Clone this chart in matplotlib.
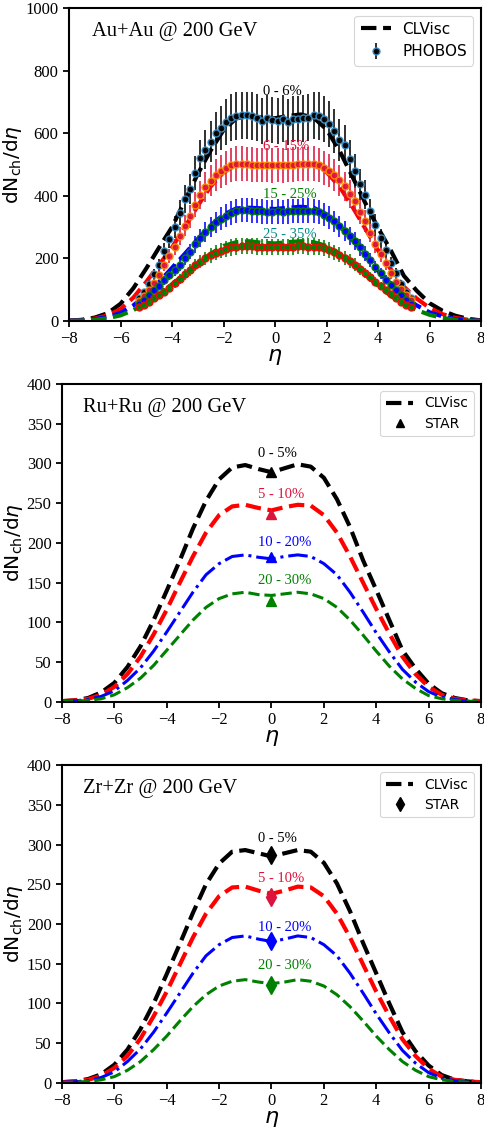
import numpy as np
import matplotlib
matplotlib.use("Agg")
import matplotlib.pyplot as plt

plt.rcParams['font.family'] = ['Liberation Serif', 'DejaVu Serif']
plt.rcParams['mathtext.fontset'] = 'dejavusans'

# ---------------- Au+Au 200 GeV, PHOBOS data ----------------
eta_phobos = [-5.3, -5.1, -4.9, -4.7, -4.5, -4.3, -4.1, -3.9, -3.7, -3.5, -3.3, -3.1, -2.9, -2.7,
              -2.5, -2.3, -2.1, -1.9, -1.7, -1.5, -1.3, -1.1, -0.9, -0.7, -0.5, -0.3, -0.1,
              0.1, 0.3, 0.5, 0.7, 0.9, 1.1, 1.3, 1.5, 1.7, 1.9, 2.1, 2.3, 2.5, 2.7, 2.9,
              3.1, 3.3, 3.5, 3.7, 3.9, 4.1, 4.3, 4.5, 4.7, 4.9, 5.1, 5.3]
phobos_0_6 = [74, 92, 118, 149, 178, 225, 262, 301, 346, 390, 422, 472, 520, 548,
              573, 600, 617, 637, 650, 655, 657, 657, 655, 650, 640, 648, 642,
              640, 647, 635, 645, 645, 648, 650, 657, 655, 645, 630, 608, 578, 562, 518,
              480, 437, 403, 351, 307, 264, 227, 184, 152, 118, 92, 75]
phobos_6_15 = [65, 80, 100, 122, 148, 178, 207, 237, 272, 305, 335, 372, 403, 428,
               448, 465, 478, 490, 498, 503, 503, 502, 500, 499, 498, 498, 497,
               498, 497, 499, 500, 502, 502, 502, 503, 498, 490, 480, 466, 450, 430, 405,
               385, 348, 320, 282, 245, 213, 184, 152, 126, 102, 84, 68]
phobos_15_25 = [55, 68, 82, 98, 113, 130, 147, 163, 180, 200, 222, 245, 265, 285,
                300, 315, 327, 337, 345, 352, 354, 354, 353, 351, 350, 349, 349,
                350, 349, 350, 351, 352, 353, 353, 351, 347, 340, 330, 318, 303, 288, 272,
                255, 235, 215, 195, 172, 152, 132, 115, 98, 82, 68, 56]
phobos_25_35 = [44, 52, 62, 72, 83, 94, 107, 120, 134, 149, 163, 178, 190, 200,
                210, 218, 225, 230, 235, 238, 240, 240, 239, 238, 237, 236, 236,
                237, 236, 237, 238, 239, 239, 238, 238, 236, 232, 227, 220, 212, 202, 192,
                180, 167, 153, 140, 126, 112, 99, 86, 74, 62, 52, 44]
phobos_relerr = [0.115, 0.11, 0.11, 0.11]

# CLVisc Au+Au
eta_model = [-8, -7.5, -7, -6.5, -6, -5.5, -5, -4.5, -4, -3.5, -3, -2.5, -2, -1.5, -1, -0.5,
             0, 0.5, 1, 1.5, 2, 2.5, 3, 3.5, 4, 4.5, 5, 5.5, 6, 6.5, 7, 7.5, 8]
au_0_6 = [1, 4, 11, 25, 55, 105, 168, 235, 300, 385, 470, 545, 610, 648, 655, 650,
          648, 655, 660, 650, 612, 545, 462, 378, 298, 225, 145, 97, 57, 33, 17, 7, 2]
au_6_15 = [1, 3, 8, 18, 38, 75, 125, 180, 235, 300, 368, 430, 475, 500, 502, 497,
           495, 500, 503, 500, 476, 430, 366, 296, 226, 165, 110, 72, 42, 22, 10, 4, 1]
au_15_25 = [1, 2, 6, 13, 26, 50, 85, 125, 170, 215, 262, 305, 340, 360, 362, 360,
            358, 362, 365, 362, 341, 305, 260, 210, 160, 115, 78, 50, 28, 15, 6, 2, 1]
au_25_35 = [0.5, 1.5, 4, 9, 18, 35, 58, 85, 118, 150, 185, 215, 240, 252, 255, 250,
            248, 252, 255, 252, 240, 215, 183, 148, 113, 80, 55, 35, 20, 10, 4, 1.5, 0.5]

# ---------------- Ru+Ru and Zr+Zr 200 GeV ----------------
ru_0_5 = [1, 2, 5, 12, 24, 44, 70, 103, 140, 178, 218, 253, 280, 295, 298, 293,
          289, 294, 299, 296, 282, 255, 220, 178, 141, 103, 65, 42, 23, 11, 5, 2, 1]
ru_5_10 = [1, 2, 4, 9, 19, 35, 57, 85, 116, 150, 183, 213, 235, 246, 248, 244,
           241, 245, 248, 247, 235, 213, 183, 150, 117, 86, 57, 35, 19, 9, 4, 2, 1]
ru_10_20 = [1, 1.5, 3, 7, 14, 27, 43, 64, 88, 113, 138, 160, 174, 183, 185, 182,
            180, 183, 185, 183, 174, 160, 138, 113, 87, 63, 41, 25, 13, 6, 3, 1, 0.5]
ru_20_30 = [0.5, 1, 2, 4, 9, 18, 30, 46, 65, 84, 103, 119, 130, 136, 138, 135,
            134, 136, 138, 136, 130, 119, 103, 84, 64, 45, 29, 17, 8, 4, 2, 1, 0.5]

zr_0_5 = [1, 2, 5, 11, 23, 42, 68, 100, 137, 175, 214, 250, 276, 291, 293, 289,
          285, 289, 293, 291, 277, 251, 216, 176, 138, 100, 64, 40, 22, 10, 4, 2, 1]
zr_5_10 = [1, 2, 4, 9, 19, 34, 56, 84, 115, 149, 183, 213, 235, 246, 247, 242,
           238, 242, 247, 246, 235, 213, 183, 149, 115, 84, 55, 34, 18, 8, 4, 2, 1]
zr_10_20 = [1, 1.5, 3, 7, 14, 27, 43, 64, 88, 113, 138, 160, 174, 183, 185, 181,
            178, 181, 185, 183, 174, 160, 138, 113, 87, 63, 41, 25, 13, 6, 3, 1, 0.5]
zr_20_30 = [0.5, 1, 2, 4, 8, 16, 27, 42, 59, 78, 96, 111, 122, 128, 130, 127,
            125, 127, 130, 128, 122, 111, 96, 78, 59, 42, 27, 16, 8, 4, 2, 1, 0.5]

star_ru = [289, 236, 182, 127]
star_zr = [287, 234, 179, 123]

au_labels = ['0 - 6%', '6 - 15%', '15 - 25%', '25 - 35%']
au_label_y = [733, 557, 405, 277]
iso_labels = ['0 - 5%', '5 - 10%', '10 - 20%', '20 - 30%']
ru_label_y = [313, 261, 201, 153]
zr_label_y = [308, 257, 196, 148]

tick_fs = 12
serif = 'Liberation Serif'
sans = ['DejaVu Sans']

fig = plt.figure(figsize=(4.85, 11.3), dpi=100)
ax1 = fig.add_axes([0.1423, 0.7159, 0.8495, 0.2770])
ax2 = fig.add_axes([0.1278, 0.3788, 0.8639, 0.2814])
ax3 = fig.add_axes([0.1278, 0.0416, 0.8639, 0.2814])

# ---- panel 1 ----
model_cols = ['black', 'red', 'blue', 'green']
face_cols = ['black', 'crimson', 'blue', 'green']
edge_cols = ['#3a8fc7', 'darkorange', 'green', 'red']
bar_cols = ['black', 'crimson', 'blue', 'green']
txt_cols = ['black', 'crimson', 'green', 'darkcyan']
series = [phobos_0_6, phobos_6_15, phobos_15_25, phobos_25_35]
models = [au_0_6, au_6_15, au_15_25, au_25_35]

for i in range(4):
    y = np.array(series[i], dtype=float)
    ax1.plot(eta_model, models[i], '--', color=model_cols[i], lw=3,
             label='CLVisc' if i == 0 else None, zorder=2)
    ax1.errorbar(eta_phobos, y, yerr=phobos_relerr[i] * y, fmt='o', ms=5,
                 mfc=face_cols[i], mec=edge_cols[i], mew=1.0, ecolor=bar_cols[i],
                 elinewidth=1.2, alpha=0.95,
                 label='PHOBOS' if i == 0 else None, zorder=3)
    ax1.text(-0.45, au_label_y[i], au_labels[i], color=txt_cols[i], fontsize=10.5,
             ha='left', va='center', zorder=5)

ax1.set_xlim(-8, 8)
ax1.set_ylim(0, 1000)
ax1.set_yticks([0, 200, 400, 600, 800, 1000])
ax1.text(-7.1, 925, 'Au+Au @ 200 GeV', fontsize=14.8, va='center')
leg = ax1.legend(loc='upper right', prop={'family': sans, 'size': 11}, handlelength=2.0,
                 borderpad=0.4, labelspacing=0.5, handletextpad=0.75)
leg.get_frame().set_linewidth(0.8)

# ---- panels 2 and 3 ----
styles = [('--', 3.0), ('--', 3.0), ('-.', 2.2), ('--', 2.2)]
for ax, curves, star, mk, ms, label_y, title in [
        (ax2, [ru_0_5, ru_5_10, ru_10_20, ru_20_30], star_ru, '^', 7.5, ru_label_y, 'Ru+Ru @ 200 GeV'),
        (ax3, [zr_0_5, zr_5_10, zr_10_20, zr_20_30], star_zr, 'd', 9, zr_label_y, 'Zr+Zr @ 200 GeV')]:
    for i in range(4):
        ls, lw = styles[i]
        ax.plot(eta_model, curves[i], ls, color=model_cols[i], lw=lw,
                label='CLVisc' if i == 0 else None, zorder=2)
        ax.plot([0], [star[i]], mk, color=face_cols[i], ms=ms,
                label='STAR' if i == 0 else None, zorder=3)
        ax.text(-0.5, label_y[i], iso_labels[i], color=face_cols[i], fontsize=10.5,
                ha='left', va='center')
    ax.set_xlim(-8, 8)
    ax.set_ylim(0, 400)
    ax.set_yticks(np.arange(0, 401, 50))
    ax.text(-7.2, 370, title, fontsize=14.8, va='center')
    leg = ax.legend(loc='upper right', prop={'family': sans, 'size': 10}, handlelength=2.0,
                    borderpad=0.4, labelspacing=0.45, handletextpad=0.8, markerscale=0.75)
    leg.get_frame().set_linewidth(0.8)

for ax in (ax1, ax2, ax3):
    ax.set_xticks(np.arange(-8, 9, 2))
    ax.tick_params(labelsize=tick_fs, width=1.3, length=4)
    for sp in ax.spines.values():
        sp.set_linewidth(1.5)
    ax.set_ylabel(r'$\mathrm{dN_{ch}/d}\eta$', fontsize=14.5, labelpad=1)
    ax.set_xlabel(r'$\eta$', fontsize=16, labelpad=0)
    ax.set_xticklabels([str(t).replace('-', '\u2212') for t in range(-8, 9, 2)],
                       fontfamily=serif)
    ax.set_yticklabels([str(int(t)) for t in ax.get_yticks()], fontfamily=serif)

fig.savefig('out.png', dpi=100)
